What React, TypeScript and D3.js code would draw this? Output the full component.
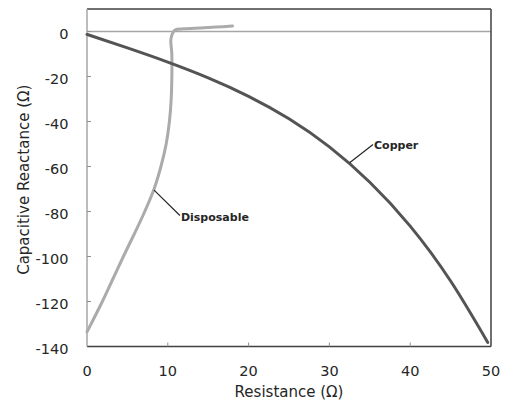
import React from "react";
import * as d3 from "d3";

// Copper: resistance (Ω) vs capacitive reactance (Ω)
const copperR = [0, 5, 10, 15, 20, 25, 30, 35, 40, 45, 49.6];
const copperX = [-1.3, -7.3, -13.6, -20.6, -28.8, -38.8, -51.3, -67.0, -86.5, -110.9, -138.2];

// Disposable: traced in order along the curve
const dispR = [0, 1.9, 3.2, 4.5, 5.85, 7.15, 8.3, 9.15, 9.8, 10.2, 10.42, 10.5, 10.5, 10.4, 10.9, 12.0, 14.0, 16.0, 18.0];
const dispX = [-133.5, -120, -110, -100, -90, -80, -70, -60, -50, -40, -30, -20, -10, -3, 0.7, 1.2, 1.6, 2.0, 2.4];

const xTicks = [0, 10, 20, 30, 40, 50];
const yTicks = [-140, -120, -100, -80, -60, -40, -20, 0];

const labelNames = ["Copper", "Disposable"];
const labelAnchorR = [32.5, 8.3];
const labelAnchorX = [-58.3, -70.5];
const labelTextR = [35.4, 11.5];
const labelTextX = [-50.2, -81.8];

const W = 505;
const H = 403;
const M = { left: 87, right: 14, top: 9, bottom: 56.5 };

export default function App() {
  const x = d3.scaleLinear().domain([0, 50]).range([M.left, W - M.right]);
  const y = d3.scaleLinear().domain([-140, 10]).range([H - M.bottom, M.top]);

  const copperLine = d3
    .line<[number, number]>()
    .x((d) => x(d[0]))
    .y((d) => y(d[1]))
    .curve(d3.curveNatural);

  const dispLine = d3
    .line<[number, number]>()
    .x((d) => x(d[0]))
    .y((d) => y(d[1]))
    .curve(d3.curveCatmullRom.alpha(0.5));

  const copper = copperR.map((r, i) => [r, copperX[i]] as [number, number]);
  const disp = dispR.map((r, i) => [r, dispX[i]] as [number, number]);

  const font = "'DejaVu Sans', sans-serif";
  const [x0, x1] = x.range();
  const [yb, yt] = y.range();

  return (
    <svg
      width={W}
      height={H}
      style={{ position: "absolute", left: 0, top: 0, background: "#fff" }}
      fontFamily={font}
    >
      {/* zero line */}
      <line x1={x0} x2={x1} y1={y(0)} y2={y(0)} stroke="#a6a6a6" strokeWidth={1.5} />

      {/* plot frame */}
      <line x1={x0} x2={x1} y1={yt} y2={yt} stroke="#404040" strokeWidth={1.5} />
      <line x1={x1} x2={x1} y1={yt} y2={yb} stroke="#404040" strokeWidth={1.5} />
      <line x1={x0} x2={x1} y1={yb} y2={yb} stroke="#404040" strokeWidth={1.5} />
      <line x1={x0} x2={x0} y1={yt} y2={yb} stroke="#a6a6a6" strokeWidth={1.5} />

      {/* ticks */}
      {xTicks.map((t) => (
        <g key={"xt" + t}>
          {t > 0 && t < 50 && (
            <line x1={x(t)} x2={x(t)} y1={yb} y2={yb - 4} stroke="#909090" strokeWidth={1} />
          )}
          <text x={x(t)} y={376} textAnchor="middle" fontSize={14.5} fill="#262626">
            {t}
          </text>
        </g>
      ))}
      {yTicks.map((t) => (
        <g key={"yt" + t}>
          {t > -140 && (
            <line x1={x0} x2={x0 + 4} y1={y(t)} y2={y(t)} stroke="#909090" strokeWidth={1} />
          )}
          <text x={x0 - 18.5} y={y(t) + 7} textAnchor="end" fontSize={14.5} fill="#262626">
            {t}
          </text>
        </g>
      ))}

      {/* curves */}
      <path d={dispLine(disp) || ""} fill="none" stroke="#ababab" strokeWidth={3} strokeLinecap="round" strokeLinejoin="round" />
      <path d={copperLine(copper) || ""} fill="none" stroke="#545454" strokeWidth={3} strokeLinecap="round" />

      {/* annotations */}
      {labelNames.map((n, i) => (
        <g key={n}>
          <line
            x1={x(labelAnchorR[i])}
            y1={y(labelAnchorX[i])}
            x2={x(labelTextR[i])}
            y2={y(labelTextX[i])}
            stroke="#262626"
            strokeWidth={1.2}
          />
          <text
            x={x(labelTextR[i]) + 1}
            y={y(labelTextX[i]) + 5}
            fontSize={11}
            fontWeight="bold"
            fill="#262626"
          >
            {n}
          </text>
        </g>
      ))}

      {/* axis titles */}
      <text x={(x0 + x1) / 2} y={397} textAnchor="middle" fontSize={15} fill="#262626">
        Resistance (Ω)
      </text>
      <text
        transform={`translate(28.5, ${(yt + yb) / 2 + 2}) rotate(-90)`}
        textAnchor="middle"
        fontSize={15}
        fill="#262626"
      >
        Capacitive Reactance (Ω)
      </text>
    </svg>
  );
}
